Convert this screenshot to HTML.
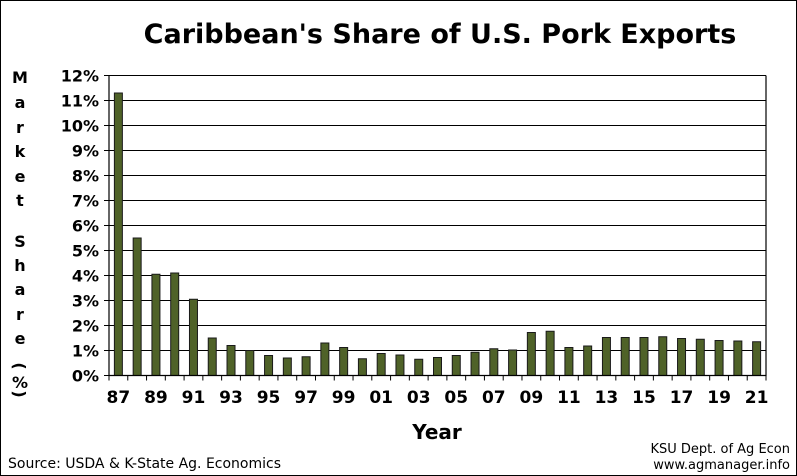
<!DOCTYPE html>
<html><head><meta charset="utf-8"><style>
body{margin:0;background:#fff;}
svg{display:block;font-family:"DejaVu Sans","Liberation Sans",sans-serif;}
</style></head><body>
<svg id="chart" width="797" height="476" viewBox="0 0 797 476">
<rect x="0.5" y="0.5" width="796" height="475" fill="#fff" stroke="#000"/>
<text x="440" y="43" font-size="27" font-weight="bold" text-anchor="middle">Caribbean's Share of U.S. Pork Exports</text>
<g id="ylab" font-size="16" font-weight="bold" text-anchor="middle">
<text x="20" y="83">M</text><text x="20" y="108">a</text><text x="20" y="133">r</text><text x="20" y="157">k</text><text x="20" y="182">e</text><text x="20" y="206">t</text>
<text x="20" y="247">S</text><text x="20" y="271">h</text><text x="20" y="295">a</text><text x="20" y="320">r</text><text x="20" y="344">e</text>
<text x="20" y="372" transform="rotate(90 20 366)">(</text><text x="20" y="388">%</text><text x="20" y="400" transform="rotate(90 20 394)">)</text>
</g>
<g id="grid"></g><g id="bars"></g><g id="axes"></g>
<text x="437" y="439" font-size="20" font-weight="bold" text-anchor="middle">Year</text>
<text x="8" y="468" font-size="14">Source:  USDA &amp; K-State Ag. Economics</text>
<text x="790" y="453" font-size="13" text-anchor="end">KSU Dept. of Ag Econ</text>
<text x="790" y="469" font-size="13" text-anchor="end">www.agmanager.info</text>
</svg>
<script>
const categories=["87","88","89","90","91","92","93","94","95","96","97","98","99","00","01","02","03","04","05","06","07","08","09","10","11","12","13","14","15","16","17","18","19","20","21"];
const shareValues=[11.3,5.5,4.05,4.1,3.05,1.5,1.2,1.0,0.8,0.7,0.75,1.3,1.12,0.67,0.88,0.82,0.65,0.72,0.8,0.93,1.07,1.02,1.72,1.77,1.12,1.18,1.52,1.52,1.52,1.55,1.48,1.45,1.4,1.38,1.35];
const yTicks=[0,1,2,3,4,5,6,7,8,9,10,11,12];
const L=109,R=766,T=75.5,B=375.5,yMax=12;
const y=v=>B-(v/yMax)*(B-T);
const step=(R-L)/categories.length;
const x=i=>L+step*(i+0.5);
const ns="http://www.w3.org/2000/svg";
function mk(t,a,p){const e=document.createElementNS(ns,t);for(const k in a)e.setAttribute(k,a[k]);p.appendChild(e);return e;}
const grid=document.getElementById('grid'),bars=document.getElementById('bars'),axes=document.getElementById('axes');
yTicks.forEach(v=>{
 const l=mk('line',{x1:L-5,x2:R,y1:y(v),y2:y(v),stroke:'#000','stroke-width':1},grid);
 
 
 const t=mk('text',{x:L-10,y:y(v)+6,'font-size':16,'font-weight':'bold','text-anchor':'end'},axes);
 t.textContent=v+'%';
 
 
});
shareValues.forEach((v,i)=>{
 const r=mk('rect',{x:x(i)-4,y:y(v),width:8,height:B-y(v),fill:'#4f6228',stroke:'#1a1a1a','stroke-width':1},bars);
 
 
});
const ax=mk('path',{d:`M${L} ${T}V${B}H${R}V${T}`,fill:'none',stroke:'#000','stroke-width':1.2},axes);


for(let i=0;i<=categories.length;i++){
 const tk=mk('line',{x1:L+step*i,x2:L+step*i,y1:B,y2:B+5,stroke:'#000'},axes);
 
 
}
categories.forEach((c,i)=>{
 if(i%2)return;
 const t=mk('text',{x:x(i),y:403,'font-size':17,'font-weight':'bold','text-anchor':'middle'},axes);
 t.textContent=c;
 
 
});
</script>
</body></html>
